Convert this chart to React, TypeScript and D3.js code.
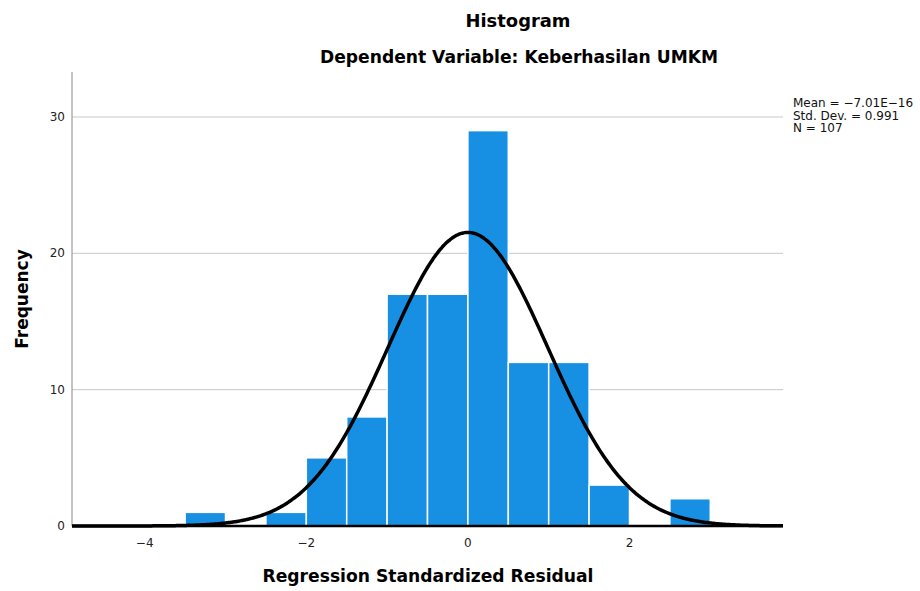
import React from "react";
import * as d3 from "d3";

const binStarts = [-3.5, -2.5, -2.0, -1.5, -1.0, -0.5, 0.0, 0.5, 1.0, 1.5, 2.5];
const binWidth = 0.5;
const frequencies = [1, 1, 5, 8, 17, 17, 29, 12, 12, 3, 2];
const xTicks = [-4, -2, 0, 2];
const yTicks = [0, 10, 20, 30];
const stats = { mean: -7.01e-16, sd: 0.991, n: 107 };
const legendLines = ["Mean = \u22127.01E\u221216", "Std. Dev. = 0.991", "N = 107"];

const W = 920, H = 591;
const left = 72, right = 783, top = 72, bottom = 526;

export default function App() {
  const x = d3.scaleLinear().domain([-4.9, 3.9]).range([left, right]);
  const y = d3.scaleLinear().domain([0, 33.3]).range([bottom, top]);
  const pdf = (v: number) =>
    (stats.n * binWidth) / (stats.sd * Math.sqrt(2 * Math.PI)) *
    Math.exp(-0.5 * ((v - stats.mean) / stats.sd) ** 2);
  const pts = d3.range(-4.9, 3.9001, 0.02).map((v) => [v, pdf(v)] as [number, number]);
  const line = d3.line<[number, number]>().x((d) => x(d[0])).y((d) => y(d[1])).curve(d3.curveBasis);
  const font = "'DejaVu Sans', sans-serif";
  return (
    <svg width={W} height={H} style={{ position: "absolute", left: 0, top: 0, background: "#fff" }}>
      <text x={518} y={27} textAnchor="middle" fontFamily={font} fontWeight="bold" fontSize={17} textLength={105} lengthAdjust="spacingAndGlyphs">Histogram</text>
      <text x={519} y={63} textAnchor="middle" fontFamily={font} fontWeight="bold" fontSize={17} textLength={398} lengthAdjust="spacingAndGlyphs">Dependent Variable: Keberhasilan UMKM</text>
      {yTicks.filter((t) => t > 0).map((t) => (
        <line key={t} x1={left} x2={right} y1={y(t)} y2={y(t)} stroke="#c8c8c8" strokeWidth={1} />
      ))}
      {frequencies.map((f, i) => (
        <rect key={i} x={x(binStarts[i])} y={y(f)} width={x(binStarts[i] + binWidth) - x(binStarts[i])}
          height={bottom - y(f)} fill="#1790e3" stroke="#ffffff" strokeWidth={1.5} />
      ))}
      <line x1={left} x2={left} y1={top} y2={bottom} stroke="#888" strokeWidth={1} />
      <line x1={left} x2={right} y1={bottom} y2={bottom} stroke="#000" strokeWidth={2.5} />
      <path d={line(pts) || ""} fill="none" stroke="#000" strokeWidth={3.5} />
      {yTicks.map((t) => (
        <text key={t} x={left - 7} y={y(t) + 4} textAnchor="end" fontFamily={font} fontSize={12} fill="#222">{t}</text>
      ))}
      {xTicks.map((t) => (
        <text key={t} x={x(t)} y={bottom + 21} textAnchor="middle" fontFamily={font} fontSize={12} fill="#222">
          {t < 0 ? "\u2212" + Math.abs(t) : t}
        </text>
      ))}
      <text x={428} y={582} textAnchor="middle" fontFamily={font} fontWeight="bold" fontSize={17} textLength={331} lengthAdjust="spacingAndGlyphs">Regression Standardized Residual</text>
      <text transform={`translate(28,299) rotate(-90)`} textAnchor="middle" fontFamily={font} fontWeight="bold" fontSize={17}>Frequency</text>
      {legendLines.map((s, i) => (
        <text key={i} x={793} y={107 + i * 12.5} fontFamily={font} fontSize={12} fill="#111">{s}</text>
      ))}
    </svg>
  );
}
